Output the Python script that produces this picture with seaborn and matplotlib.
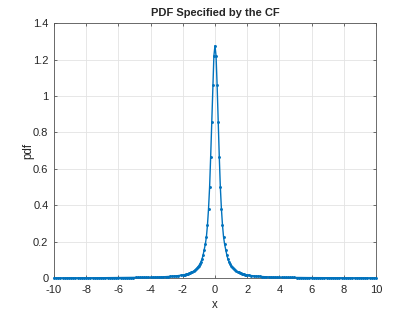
import numpy as np
import pandas as pd
import matplotlib
matplotlib.use("Agg")
import matplotlib.pyplot as plt
import seaborn as sns

# right half of the pdf (curve is symmetric about 0)
x_core = [0.0, 0.067, 0.133, 0.2, 0.267, 0.333, 0.4, 0.467, 0.533, 0.6,
          0.667, 0.733, 0.8, 0.867, 0.933, 1.0, 1.067, 1.133, 1.2, 1.267,
          1.333, 1.4, 1.467, 1.533, 1.6, 1.667, 1.733, 1.8, 1.867, 1.933, 2.0]
pdf_core = [1.276, 1.22, 1.06, 0.855, 0.667, 0.50, 0.38, 0.29, 0.225, 0.185,
            0.155, 0.128, 0.105, 0.090, 0.078, 0.068, 0.060, 0.053, 0.047, 0.042,
            0.038, 0.034, 0.031, 0.028, 0.026, 0.024, 0.022, 0.020, 0.019, 0.018, 0.017]
x_tail = list(np.round(np.linspace(2.1333, 10.0, 60), 4))
pdf_tail = [.0150, .0133, .0118, .0106, .0096, .0087, .0079, .0072, .0066, .0061,
            .0057, .0053, .0049, .0046, .0043, .0040, .0038, .0035, .0033, .0031,
            .0030, .0028, .0027, .0025, .0024, .0023, .0022, .0021, .0020, .0019,
            .0018, .0017, .0017, .0016, .0015, .0015, .0014, .0014, .0013, .0013,
            .0012, .0012, .0011, .0011, .0011, .0010, .0010, .0010, .0009, .0009,
            .0009, .0009, .0008, .0008, .0008, .0008, .0007, .0007, .0007, .0007]

x_half = x_core + x_tail
pdf_half = pdf_core + pdf_tail
x = [-v for v in x_half[:0:-1]] + x_half
pdf = pdf_half[:0:-1] + pdf_half
df = pd.DataFrame({"x": x, "pdf": pdf})

xticks = [-10, -8, -6, -4, -2, 0, 2, 4, 6, 8, 10]
yticks = [0, 0.2, 0.4, 0.6, 0.8, 1, 1.2, 1.4]
ylabels = ["0", "0.2", "0.4", "0.6", "0.8", "1", "1.2", "1.4"]

sns.set_theme(style="white")
plt.rcParams["font.family"] = ["Liberation Sans", "DejaVu Sans"]

fig = plt.figure(figsize=(4.15, 3.12), dpi=100)
fig.patch.set_facecolor("white")
ax = fig.add_axes([0.130, 0.109, 0.776, 0.817])

sns.lineplot(data=df, x="x", y="pdf", ax=ax, color="#0072BD", linewidth=1.0,
             marker=".", markersize=4.2, markeredgewidth=0, estimator=None,
             sort=False, zorder=5, clip_on=False)

ax.set_xlim(-10, 10)
ax.set_ylim(0, 1.4)
ax.set_xticks(xticks)
ax.set_xticklabels([str(t) for t in xticks])
ax.set_yticks(yticks)
ax.set_yticklabels(ylabels)
ax.grid(True, color="#e3e3e3", linewidth=0.6)
ax.set_axisbelow(True)
for s in ax.spines.values():
    s.set_color("#555555")
    s.set_linewidth(0.6)
ax.tick_params(direction="in", length=2.5, width=0.6, color="#555555",
               labelsize=8, labelcolor="#262626", top=True, right=True,
               left=True, bottom=True)
ax.tick_params(axis="x", pad=5)
ax.tick_params(axis="y", pad=4)
ax.set_xlabel("x", fontsize=8.3, color="#262626", labelpad=3)
ax.set_ylabel("pdf", fontsize=8.3, color="#262626", labelpad=-1)
ax.set_title("PDF Specified by the CF", fontsize=8, fontweight="bold", pad=5)

fig.savefig("out.png", dpi=100, facecolor="white")
